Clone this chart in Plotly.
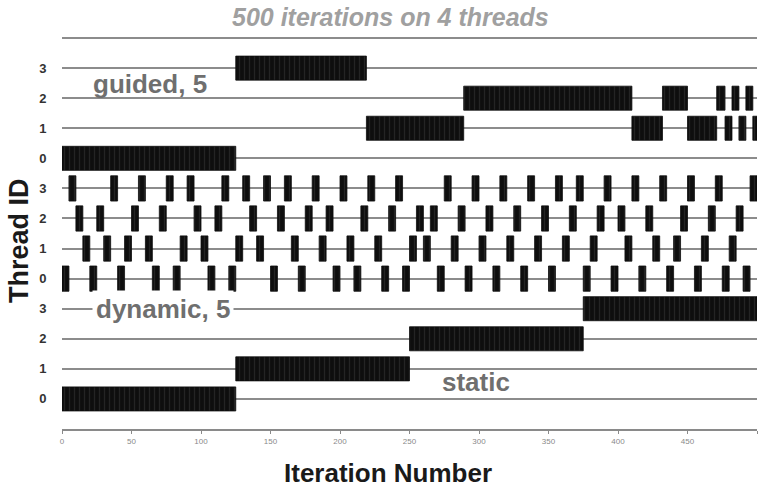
import plotly.graph_objects as go

# ---------------- data ----------------
N_ITER = 500
CHUNK = 5

# static schedule: one block per thread
static_thread = [0, 1, 2, 3]
static_start = [0, 125, 250, 375]
static_end = [125, 250, 375, 500]

# dynamic,5 schedule: start iteration of each 5-iteration chunk, per thread
dynamic_t0 = [0, 20, 40, 65, 80, 105, 120, 150, 170, 195, 210, 230, 245, 270, 290,
              310, 330, 350, 375, 395, 415, 435, 455, 475, 490]
dynamic_t1 = [15, 30, 45, 60, 85, 100, 125, 140, 165, 185, 205, 225, 250, 260, 280,
              300, 320, 340, 360, 380, 405, 425, 440, 460, 480]
dynamic_t2 = [10, 25, 50, 70, 95, 110, 135, 155, 175, 190, 215, 235, 255, 265, 285,
              305, 325, 345, 365, 385, 400, 420, 445, 465, 485]
dynamic_t3 = [5, 35, 55, 75, 90, 115, 130, 145, 160, 180, 200, 220, 240, 275, 295,
              315, 335, 355, 370, 390, 410, 430, 450, 470, 495]

# guided,5 schedule: (thread, start, end)
guided_thread = [0, 3, 1, 2, 1, 2, 1, 2, 1, 2, 1, 2, 1]
guided_start = [0, 125, 219, 289, 410, 432, 450, 471, 477, 482, 487, 492, 497]
guided_end = [125, 219, 289, 410, 432, 450, 471, 477, 482, 487, 492, 497, 500]

thread_labels = ["0", "1", "2", "3"]
x_ticks = [0, 50, 100, 150, 200, 250, 300, 350, 400, 450, 500]

# row offsets for each section on the shared y axis
OFF_STATIC, OFF_DYNAMIC, OFF_GUIDED = 0, 4, 8

# ---------------- figure ----------------
FONT = "Liberation Sans, Arial, sans-serif"
BAR_COLOR = "#0e0e0e"
bar_style = dict(
    color=BAR_COLOR,
    line=dict(color=BAR_COLOR, width=0.8),
    pattern=dict(shape="|", fgcolor="#3a3a3a", bgcolor=BAR_COLOR, size=5, solidity=0.25),
)

fig = go.Figure()

# static
fig.add_trace(go.Bar(
    orientation="h",
    y=[OFF_STATIC + t for t in static_thread],
    base=static_start,
    x=[e - s for s, e in zip(static_start, static_end)],
    width=0.8, marker=bar_style, hoverinfo="skip", showlegend=False,
))

# dynamic
dyn_y, dyn_base, dyn_len = [], [], []
for t, starts in enumerate([dynamic_t0, dynamic_t1, dynamic_t2, dynamic_t3]):
    for s in starts:
        dyn_y.append(OFF_DYNAMIC + t)
        dyn_base.append(s)
        dyn_len.append(CHUNK)
fig.add_trace(go.Bar(
    orientation="h", y=dyn_y, base=dyn_base, x=dyn_len,
    width=0.84, marker=bar_style, hoverinfo="skip", showlegend=False,
))

# guided
fig.add_trace(go.Bar(
    orientation="h",
    y=[OFF_GUIDED + t for t in guided_thread],
    base=guided_start,
    x=[e - s for s, e in zip(guided_start, guided_end)],
    width=0.8, marker=bar_style, hoverinfo="skip", showlegend=False,
))

label_font = dict(family=FONT, size=26, color="#6f6f6f", weight="bold")
fig.add_annotation(x=63, y=10.47, xref="x", yref="y", text="guided, 5",
                   showarrow=False, font=label_font)
fig.add_annotation(x=73, y=3.0, xref="x", yref="y", text="dynamic, 5",
                   showarrow=False, font=label_font, bgcolor="white", borderpad=3)
fig.add_annotation(x=298, y=0.56, xref="x", yref="y", text="static",
                   showarrow=False, font=label_font)

# title and axis titles
fig.add_annotation(x=0.472, y=1.0148, xref="paper", yref="paper",
                   text="500 iterations on 4 threads", showarrow=False,
                   font=dict(family=FONT, size=25, color="#a0a0a0", weight="bold", style="italic"),
                   yanchor="middle")
fig.add_annotation(x=0.469, y=-0.108, xref="paper", yref="paper",
                   text="Iteration Number", showarrow=False,
                   font=dict(family=FONT, size=26, color="#1a1a1a", weight="bold"),
                   yanchor="middle")
fig.add_annotation(x=-0.062, y=0.4655, xref="paper", yref="paper",
                   text="Thread ID", showarrow=False, textangle=-90,
                   font=dict(family=FONT, size=27, color="#1a1a1a", weight="bold"),
                   xanchor="center", yanchor="middle")

ytickvals = list(range(0, 13))
yticktext = thread_labels * 3 + [""]

fig.update_layout(
    width=760, height=494,
    margin=dict(l=62, r=3, t=23, b=65),
    paper_bgcolor="white", plot_bgcolor="white",
    barmode="overlay",
    xaxis=dict(
        range=[0, N_ITER], tickvals=x_ticks, ticktext=[str(v) for v in x_ticks],
        showgrid=False, zeroline=False,
        showline=True, linecolor="#8a8a8a", linewidth=2,
        ticks="outside", ticklen=3, tickcolor="#8a8a8a",
        tickfont=dict(family=FONT, size=8, color="#8a8a8a"),
    ),
    yaxis=dict(
        range=[-1, 12.5], tickvals=ytickvals, ticktext=yticktext,
        showgrid=True, gridcolor="#8c8c8c", gridwidth=2,
        zeroline=False, showline=False,
        ticks="outside", ticklen=12, tickcolor="rgba(0,0,0,0)",
        tickfont=dict(family=FONT, size=13, color="#333333", weight="bold"),
    ),
)

fig.write_html("out.html")
